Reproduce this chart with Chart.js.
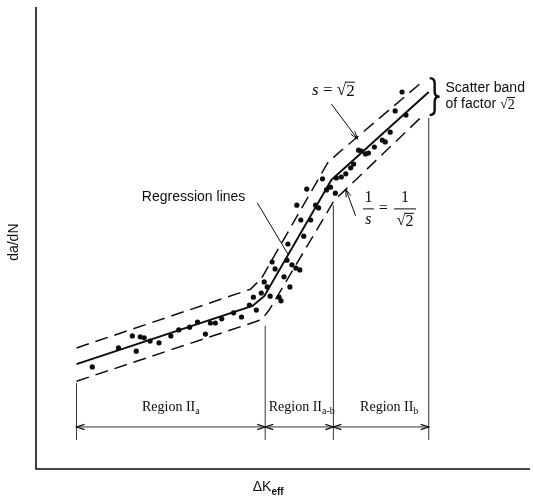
<!DOCTYPE html>
<html>
<head>
<meta charset="utf-8">
<script src="https://cdn.jsdelivr.net/npm/chart.js@4.4.1/dist/chart.umd.min.js"></script>
<style>
  html, body { margin: 0; padding: 0; background: #fff; }
  #wrap { width: 534px; height: 502px; }
</style>
</head>
<body>
<div id="wrap"><canvas id="chart" width="534" height="502"></canvas></div>
<script>
// schematic units, 0..100 on both axes (no ticks shown)
const testK = [11.4, 16.7, 19.5, 20.3, 21.1, 21.9, 23.1, 24.9, 27.3, 28.9, 31.1, 32.7, 34.3, 35.3, 36.3, 37.6, 40.0, 41.6, 43.2, 44.0,
  44.6, 45.6, 46.2, 46.8, 47.4, 47.8, 48.4, 49.2, 49.6, 50.2, 50.8, 51.0, 51.4, 51.8, 52.6, 53.4, 52.8, 53.6, 54.2, 54.8,
  55.6, 56.6, 57.2, 58.0, 58.8, 59.6, 60.6, 60.8, 61.8, 62.7, 63.7, 64.3, 65.3, 65.9, 66.7, 67.3, 68.5, 70.1, 70.7, 71.7,
  72.7, 74.1, 74.9];
const testRate = [22.1, 26.2, 28.8, 25.5, 28.6, 28.4, 27.7, 27.3, 28.8, 30.1, 30.7, 31.8, 29.2, 31.6, 31.6, 32.5, 33.8, 32.9, 35.5, 37.2,
  34.4, 38.1, 40.5, 39.4, 37.4, 44.8, 43.3, 37.2, 36.4, 41.6, 45.2, 48.7, 39.4, 44.2, 43.5, 43.1, 57.1, 53.9, 50.4, 60.6,
  53.9, 57.1, 56.5, 62.8, 60.4, 61.0, 59.7, 63.0, 63.2, 63.9, 65.2, 66.0, 69.0, 68.8, 68.2, 68.4, 69.7, 71.2, 70.8, 72.9,
  77.5, 81.6, 76.6];

// regression lines (three segments with rounded knees)
const fitK = [8.2, 43.8, 46.2, 59.8, 61.8, 79.5];
const fitRate = [22.7, 35.3, 37.4, 62.6, 64.5, 81.6];

// scatter band s = sqrt(2) and 1/s
const upperK = [8.2, 43.4, 45.6, 59.0, 61.0, 78.3];
const upperRate = [26.2, 38.9, 41.2, 66.2, 68.2, 83.9];
const lowerK = [8.2, 45.6, 47.2, 60.4, 62.4, 78.7];
const lowerRate = [19.0, 32.3, 34.4, 58.2, 60.2, 76.9];

// region limits
const regionEdges = [8.2, 46.4, 60.2, 79.5];
const edgeTops = [18.6, 31.0, 57.1, 76.0];
const regionSubs = ['a', 'a-b', 'b'];

const pts = (xs, ys) => xs.map((x, i) => ({ x, y: ys[i] }));
const INK = '#0d0d0d';
const SERIF = '"Liberation Serif", "Times New Roman", serif';
const SANS = '"Liberation Sans", Arial, sans-serif';

// annotation anchors, in chart units
const notes = {
  edgeBottom: 6.3,
  dimY: 9.1,
  regionLabelY: 13.4,
  regionLabelX: [27.3, 53.8, 71.5],
  regression: { x: 31.9, y: 58.9, from: [44.8, 57.6], to: [51.0, 46.5] },
  sUpper: { x: 60.2, y: 82.0, from: [59.8, 79.0], to: [65.1, 71.4] },
  sLower: { x1: 67.3, xEq: 70.3, x2: 74.7, y: 56.3, from: [64.7, 54.8], to: [62.7, 60.6] },
  brace: { x: 80.7, top: 84.6, bottom: 76.6 },
  band: { x: 82.9, y1: 82.5, y2: 79.0 },
  xTitle: { x: 47.0, y: -3.9 },
  yTitle: { x: -4.4, y: 49.1 },
};

function runs(ctx, parts, cx, cy, align) {
  let w = 0;
  parts.forEach(p => { ctx.font = p.font; p.w = ctx.measureText(p.t).width; w += p.w; });
  let x = align === 'left' ? cx : cx - w / 2;
  ctx.textAlign = 'left';
  ctx.textBaseline = 'middle';
  parts.forEach(p => { ctx.font = p.font; ctx.fillText(p.t, x, cy + (p.dy || 0)); x += p.w; });
}

// radical sign with a bar over the 2
function root2(ctx, x, cy, size, align) {
  ctx.font = `${size}px ${SERIF}`;
  const wr = ctx.measureText('\u221A').width, w2 = ctx.measureText('2').width;
  const left = align === 'center' ? x - (wr + w2) / 2 : x;
  ctx.textAlign = 'left';
  ctx.textBaseline = 'middle';
  ctx.fillText('\u221A', left, cy);
  ctx.fillText('2', left + wr, cy + 1);
  ctx.lineWidth = 1;
  ctx.beginPath();
  ctx.moveTo(left + wr - 0.5, cy - size * 0.47);
  ctx.lineTo(left + wr + w2 + 0.5, cy - size * 0.47);
  ctx.stroke();
  return wr + w2;
}

function head(ctx, tx, ty, fx, fy, len, half) {
  const a = Math.atan2(ty - fy, tx - fx);
  ctx.beginPath();
  ctx.moveTo(tx - len * Math.cos(a) + half * Math.sin(a), ty - len * Math.sin(a) - half * Math.cos(a));
  ctx.lineTo(tx, ty);
  ctx.lineTo(tx - len * Math.cos(a) - half * Math.sin(a), ty - len * Math.sin(a) + half * Math.cos(a));
  ctx.stroke();
}

const annotate = {
  id: 'annotate',
  afterDraw(chart) {
    const { ctx, chartArea: a } = chart;
    const X = v => chart.scales.x.getPixelForValue(v);
    const Y = v => chart.scales.y.getPixelForValue(v);
    ctx.save();
    ctx.strokeStyle = INK;
    ctx.fillStyle = INK;

    // axes
    ctx.lineWidth = 1.6;
    ctx.beginPath();
    ctx.moveTo(a.left, a.top);
    ctx.lineTo(a.left, a.bottom);
    ctx.lineTo(a.right, a.bottom);
    ctx.stroke();

    // dimension arrows between region limits
    ctx.lineWidth = 1.2;
    const dy = Y(notes.dimY);
    regionEdges.forEach((e, i) => {
      const x = X(e);
      if (i > 0) head(ctx, x, dy, x - 10, dy, 8, 2.6);
      if (i < regionEdges.length - 1) head(ctx, x, dy, x + 10, dy, 8, 2.6);
    });

    // region names
    notes.regionLabelX.forEach((x, i) => {
      runs(ctx, [
        { t: 'Region II', font: `14px ${SERIF}` },
        { t: regionSubs[i], font: `10px ${SERIF}`, dy: 4 },
      ], X(x), Y(notes.regionLabelY), 'center');
    });

    // regression lines label + leader
    const r = notes.regression;
    runs(ctx, [{ t: 'Regression lines', font: `14px ${SANS}` }], X(r.x), Y(r.y), 'center');
    ctx.lineWidth = 1;
    ctx.beginPath();
    ctx.moveTo(X(r.from[0]), Y(r.from[1]));
    ctx.lineTo(X(r.to[0]), Y(r.to[1]));
    ctx.stroke();

    // s = sqrt(2)
    const su = notes.sUpper;
    ctx.font = `italic 17px ${SERIF}`;
    const ws = ctx.measureText('s').width;
    ctx.font = `17px ${SERIF}`;
    const we = ctx.measureText(' = ').width;
    const wr = ctx.measureText('\u221A2').width;
    const sx = X(su.x) - (ws + we + wr) / 2;
    const sy = Y(su.y);
    runs(ctx, [{ t: 's', font: `italic 17px ${SERIF}` }, { t: ' = ', font: `17px ${SERIF}` }], sx, sy, 'left');
    root2(ctx, sx + ws + we, sy, 17, 'left');
    ctx.lineWidth = 1;
    ctx.beginPath();
    ctx.moveTo(X(su.from[0]), Y(su.from[1]));
    ctx.lineTo(X(su.to[0]), Y(su.to[1]));
    ctx.stroke();
    head(ctx, X(su.to[0]), Y(su.to[1]), X(su.from[0]), Y(su.from[1]), 8, 2.5);

    // 1/s = 1/sqrt(2)
    const sl = notes.sLower;
    const by = Y(sl.y);
    ctx.font = `16px ${SERIF}`;
    ctx.textAlign = 'center';
    ctx.textBaseline = 'middle';
    ctx.fillText('1', X(sl.x1), by - 11);
    ctx.fillText('1', X(sl.x2), by - 11);
    ctx.fillText('=', X(sl.xEq), by);
    ctx.font = `italic 16px ${SERIF}`;
    ctx.fillText('s', X(sl.x1), by + 11);
    root2(ctx, X(sl.x2), by + 12, 16, 'center');
    ctx.lineWidth = 1;
    ctx.beginPath();
    ctx.moveTo(X(sl.x1) - 5.5, by); ctx.lineTo(X(sl.x1) + 5.5, by);
    ctx.moveTo(X(sl.x2) - 11, by); ctx.lineTo(X(sl.x2) + 11, by);
    ctx.moveTo(X(sl.from[0]), Y(sl.from[1]));
    ctx.lineTo(X(sl.to[0]), Y(sl.to[1]));
    ctx.stroke();
    head(ctx, X(sl.to[0]), Y(sl.to[1]), X(sl.from[0]), Y(sl.from[1]), 8, 2.5);

    // brace for the scatter band
    const b = notes.brace;
    const bx = X(b.x), bt = Y(b.top), bb = Y(b.bottom), bm = (bt + bb) / 2;
    ctx.lineWidth = 2.4;
    ctx.beginPath();
    ctx.moveTo(bx - 5, bt);
    ctx.quadraticCurveTo(bx, bt, bx, bt + 5);
    ctx.lineTo(bx, bm - 5);
    ctx.quadraticCurveTo(bx, bm, bx + 5, bm);
    ctx.quadraticCurveTo(bx, bm, bx, bm + 5);
    ctx.lineTo(bx, bb - 5);
    ctx.quadraticCurveTo(bx, bb, bx - 5, bb);
    ctx.stroke();

    const bd = notes.band;
    runs(ctx, [{ t: 'Scatter band', font: `14px ${SANS}` }], X(bd.x), Y(bd.y1), 'left');
    ctx.font = `14px ${SANS}`;
    const wf = ctx.measureText('of factor ').width;
    runs(ctx, [{ t: 'of factor ', font: `14px ${SANS}` }], X(bd.x), Y(bd.y2), 'left');
    root2(ctx, X(bd.x) + wf, Y(bd.y2), 14, 'left');

    // axis titles
    runs(ctx, [
      { t: '\u0394K', font: `14px ${SANS}` },
      { t: 'eff', font: `bold 10px ${SANS}`, dy: 5 },
    ], X(notes.xTitle.x), Y(notes.xTitle.y), 'center');
    ctx.save();
    ctx.translate(X(notes.yTitle.x), Y(notes.yTitle.y));
    ctx.rotate(-Math.PI / 2);
    runs(ctx, [{ t: 'da/dN', font: `14px ${SANS}` }], 0, 0, 'center');
    ctx.restore();

    ctx.restore();
  }
};

const lineSet = (data, width, dash) => ({
  data, showLine: true, pointRadius: 0, borderColor: INK, borderWidth: width,
  borderDash: dash || [], tension: 0, fill: false,
});

const edgeSets = regionEdges.map((e, i) => ({
  data: [{ x: e, y: notes.edgeBottom }, { x: e, y: edgeTops[i] }],
  showLine: true, pointRadius: 0, borderColor: '#333', borderWidth: 1,
}));

new Chart(document.getElementById('chart'), {
  type: 'scatter',
  data: {
    datasets: [
      { data: pts(testK, testRate), pointRadius: 2.6, backgroundColor: INK, borderWidth: 0 },
      lineSet(pts(fitK, fitRate), 2),
      lineSet(pts(upperK, upperRate), 1.5, [13, 7]),
      lineSet(pts(lowerK, lowerRate), 1.5, [13, 7]),
      ...edgeSets,
      {
        data: [{ x: regionEdges[0], y: notes.dimY }, { x: regionEdges[regionEdges.length - 1], y: notes.dimY }],
        showLine: true, pointRadius: 0, borderColor: '#333', borderWidth: 1,
      },
    ],
  },
  options: {
    responsive: false,
    animation: false,
    devicePixelRatio: 1,
    layout: { padding: { left: 36, right: 0, top: 7, bottom: 33 } },
    plugins: { legend: { display: false }, tooltip: { enabled: false } },
    scales: {
      x: { type: 'linear', min: 0, max: 100, display: false },
      y: { type: 'linear', min: 0, max: 100, display: false },
    },
  },
  plugins: [annotate],
});
</script>
</body>
</html>
